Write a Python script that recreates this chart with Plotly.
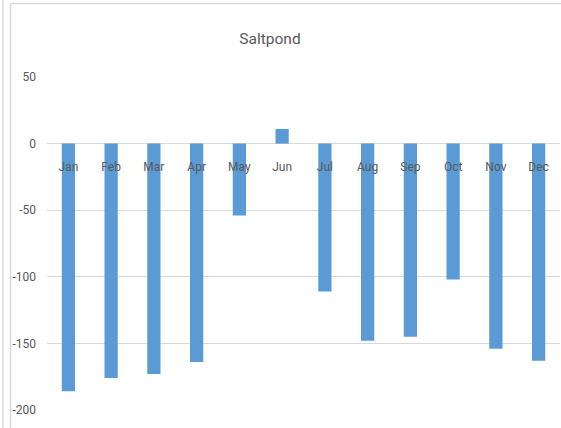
import plotly.graph_objects as go

# Monthly values for Saltpond
months = ["Jan", "Feb", "Mar", "Apr", "May", "Jun",
          "Jul", "Aug", "Sep", "Oct", "Nov", "Dec"]
values = [-186, -176, -173, -164, -54, 11,
          -111, -148, -145, -102, -154, -163]
y_ticks = [50, 0, -50, -100, -150, -200]

FONT = "Liberation Sans Narrow, Arial Narrow, Roboto, sans-serif"
TEXT = "#595959"
GRID = "#D9D9D9"

W, H = 561, 428
ML, MR, MT, MB = 47, 1, 77, 18
PW, PH = W - ML - MR, H - MT - MB


def px_x(px):
    return (px - ML) / PW


def px_y(py):
    return (H - MB - py) / PH


fig = go.Figure(
    go.Bar(
        x=months,
        y=values,
        marker=dict(color="#5B9BD5", line=dict(width=0)),
    )
)

ymin, ymax = -200, 50
zero_pos = (0 - ymin) / (ymax - ymin)

fig.update_layout(
    width=W,
    height=H,
    margin=dict(l=ML, r=MR, t=MT, b=MB, pad=0),
    paper_bgcolor="white",
    plot_bgcolor="white",
    bargap=0.69,
    showlegend=False,
    title=dict(
        text="Saltpond",
        font=dict(family=FONT, size=15.5, color=TEXT),
        xref="container", x=270 / W, xanchor="center",
        yref="container", y=1 - 39 / H, yanchor="middle",
    ),
    xaxis=dict(
        anchor="free",
        position=zero_pos,
        showgrid=False,
        showline=False,
        zeroline=False,
        ticks="",
        tickfont=dict(family=FONT, size=12, color=TEXT),
        ticklabelstandoff=14,
        layer="above traces",
    ),
    yaxis=dict(
        range=[ymin, ymax],
        tickvals=y_ticks,
        ticktext=[str(v) for v in y_ticks],
        showgrid=True,
        gridcolor=GRID,
        gridwidth=1,
        zeroline=True,
        zerolinecolor=GRID,
        zerolinewidth=1,
        showline=False,
        ticks="",
        tickfont=dict(family=FONT, size=12, color=TEXT),
        ticklabelstandoff=10,
        layer="below traces",
    ),
    shapes=[
        # outer frame edges
        dict(type="line", xref="paper", yref="paper",
             x0=px_x(3), x1=px_x(3), y0=px_y(0), y1=px_y(H),
             line=dict(color=GRID, width=1.5)),
        dict(type="line", xref="paper", yref="paper",
             x0=px_x(10.5), x1=px_x(10.5), y0=px_y(3.5), y1=px_y(H),
             line=dict(color=GRID, width=1.5)),
        dict(type="line", xref="paper", yref="paper",
             x0=px_x(10.5), x1=px_x(W), y0=px_y(3.5), y1=px_y(3.5),
             line=dict(color=GRID, width=1.5)),
    ],
)

fig.write_html("out.html")
